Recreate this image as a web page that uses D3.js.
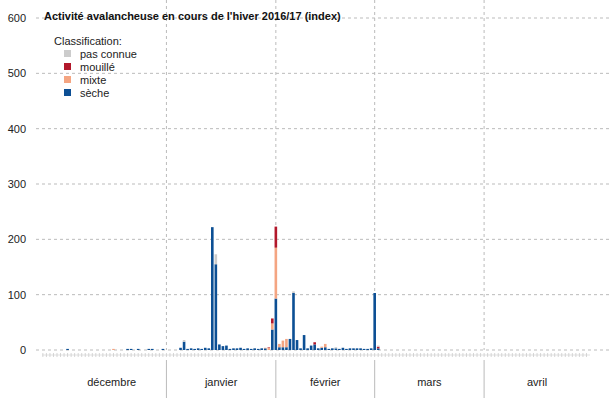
<!DOCTYPE html>
<html><head><meta charset="utf-8">
<script src="https://cdn.jsdelivr.net/npm/d3@7"></script>
<style>body{margin:0;background:#fff}text{font-family:"Liberation Sans",Arial,sans-serif}</style>
</head><body><svg id="c" width="616" height="400"></svg>
<script>
// daily avalanche index, winter 2016/17
var days    = ["2016-12-04","2016-12-17","2016-12-21","2016-12-22","2016-12-24","2016-12-27","2016-12-28","2016-12-31",
  "2017-01-05","2017-01-06","2017-01-07","2017-01-08","2017-01-09","2017-01-10","2017-01-11","2017-01-12","2017-01-13","2017-01-14","2017-01-15","2017-01-16","2017-01-17","2017-01-18","2017-01-19","2017-01-20","2017-01-21","2017-01-22","2017-01-23","2017-01-24","2017-01-25","2017-01-26","2017-01-27","2017-01-28","2017-01-29","2017-01-30","2017-01-31",
  "2017-02-01","2017-02-02","2017-02-03","2017-02-04","2017-02-05","2017-02-06","2017-02-07","2017-02-08","2017-02-09","2017-02-10","2017-02-11","2017-02-12","2017-02-13","2017-02-14","2017-02-15","2017-02-16","2017-02-17","2017-02-18","2017-02-19","2017-02-20","2017-02-21","2017-02-22","2017-02-23","2017-02-24","2017-02-25","2017-02-26","2017-02-27","2017-02-28","2017-03-01","2017-03-02"];
var seche   = [2,0,2,2,2,2,2,2, 4,15,2,3,2,3,2,4,3,222,155,10,7,8,2,3,3,4,2,3,2,3,2,3,3,0,37,
  93,5,5,5,20,103,18,3,27,3,8,10,3,4,5,2,3,3,2,4,2,3,3,3,3,2,2,3,103,3];
var mixte   = [0,2,0,0,0,0,0,0, 0,0,0,0,0,0,0,0,0,0,0,0,0,0,0,0,0,0,0,0,0,0,0,0,1,4,11,
  92,6,12,15,0,0,0,0,0,0,0,0,0,2,6,0,0,0,0,0,0,0,0,0,0,0,0,0,0,0];
var mouille = [0,0,0,0,0,0,0,0, 0,0,0,0,0,0,0,0,0,0,0,0,0,0,0,0,0,0,0,0,0,0,0,0,0,1,9,
  38,0,0,0,0,0,0,0,0,0,0,4,0,0,0,0,0,0,0,0,0,0,0,0,0,0,0,0,0,3];
var inconnu = [0,0,0,0,0,0,0,0, 0,3,0,0,0,0,0,0,0,0,18,0,0,0,0,0,0,0,0,0,0,0,0,0,0,0,0,
  0,0,0,0,0,3,0,0,0,0,0,0,0,0,0,0,0,2,0,0,0,0,0,0,0,0,0,0,0,2];
var months  = ["décembre","janvier","février","mars","avril"];
var monthStarts = ["2016-12-01","2017-01-01","2017-02-01","2017-03-01","2017-04-01","2017-05-01"];
var yTicks  = [0,100,200,300,400,500,600];
var keys    = ["seche","mixte","mouille","inconnu"];
var labels  = {inconnu:"pas connue",mouille:"mouillé",mixte:"mixte",seche:"sèche"};
var colors  = {seche:"#0c4f94",mixte:"#f4a582",mouille:"#b2182b",inconnu:"#cccccc"};

var parse = d3.timeParse("%Y-%m-%d");
var rows = days.map(function (d, i) {
	return {date: parse(d), seche: seche[i], mixte: mixte[i], mouille: mouille[i], inconnu: inconnu[i]};
});

var svg = d3.select("#c");
var x = d3.scaleTime().domain([parse("2016-12-01"), parse("2017-05-01")]).range([57, 590]);
var y = d3.scaleLinear().domain([0, 600]).range([350, 18]);
var bw = 2.6;

// gridlines
svg.append("g").selectAll("line").data(yTicks).join("line")
	.attr("x1", 36).attr("x2", 612).attr("y1", y).attr("y2", y)
	.attr("stroke", "#bbb").attr("stroke-dasharray", "3,3");
svg.append("g").selectAll("line").data(monthStarts.slice(1, 5)).join("line")
	.attr("x1", function (d) { return x(parse(d)); }).attr("x2", function (d) { return x(parse(d)); })
	.attr("y1", 0).attr("y2", 350).attr("stroke", "#bbb").attr("stroke-dasharray", "3,3");

svg.append("g").selectAll("text").data(yTicks).join("text")
	.attr("x", 26).attr("y", function (d) { return y(d) + 4; }).attr("text-anchor", "end")
	.attr("font-size", 11).attr("fill", "#222").text(function (d) { return d; });

// stacked bars
var series = d3.stack().keys(keys)(rows);
svg.append("g").selectAll("g").data(series).join("g")
	.attr("fill", function (s) { return colors[s.key]; })
	.selectAll("rect").data(function (s) { return s; }).join("rect")
	.attr("x", function (d) { return x(d.data.date) - bw / 2; })
	.attr("width", bw)
	.attr("y", function (d) { return y(d[1]); })
	.attr("height", function (d) { return Math.max(0, y(d[0]) - y(d[1])); });

// daily ticks
var allDays = d3.timeDay.range(parse("2016-11-27"), parse("2017-05-01"));
svg.append("g").selectAll("line").data(allDays).join("line")
	.attr("x1", x).attr("x2", x).attr("y1", 353).attr("y2", 357)
	.attr("stroke", "#bbb").attr("stroke-width", 0.6);
svg.append("line").attr("x1", 42).attr("x2", 590).attr("y1", 355).attr("y2", 355).attr("stroke", "#ccc").attr("stroke-width", 0.6);

// month band
svg.append("g").selectAll("line").data(monthStarts.slice(1, 5)).join("line")
	.attr("x1", function (d) { return x(parse(d)); }).attr("x2", function (d) { return x(parse(d)); })
	.attr("y1", 360).attr("y2", 398).attr("stroke", "#bbb");
svg.append("g").selectAll("text").data(months).join("text")
	.attr("x", function (d, i) { return (x(parse(monthStarts[i])) + x(parse(monthStarts[i + 1]))) / 2; })
	.attr("y", 386).attr("text-anchor", "middle").attr("font-size", 11).attr("fill", "#222")
	.text(function (d) { return d; });

// title and legend
svg.append("text").attr("x", 44).attr("y", 20).attr("font-size", 11).attr("font-weight", "bold")
	.attr("fill", "#111").text("Activité avalancheuse en cours de l'hiver 2016/17 (index)");
svg.append("text").attr("x", 54).attr("y", 45).attr("font-size", 11).attr("fill", "#222").text("Classification:");
var lg = svg.append("g").selectAll("g").data(["inconnu","mouille","mixte","seche"]).join("g")
	.attr("transform", function (d, i) { return "translate(64," + (50 + i * 13) + ")"; });
lg.append("rect").attr("width", 7).attr("height", 7).attr("fill", function (d) { return colors[d]; });
lg.append("text").attr("x", 16).attr("y", 8).attr("font-size", 11).attr("fill", "#222")
	.text(function (d) { return labels[d]; });
</script></body></html>
